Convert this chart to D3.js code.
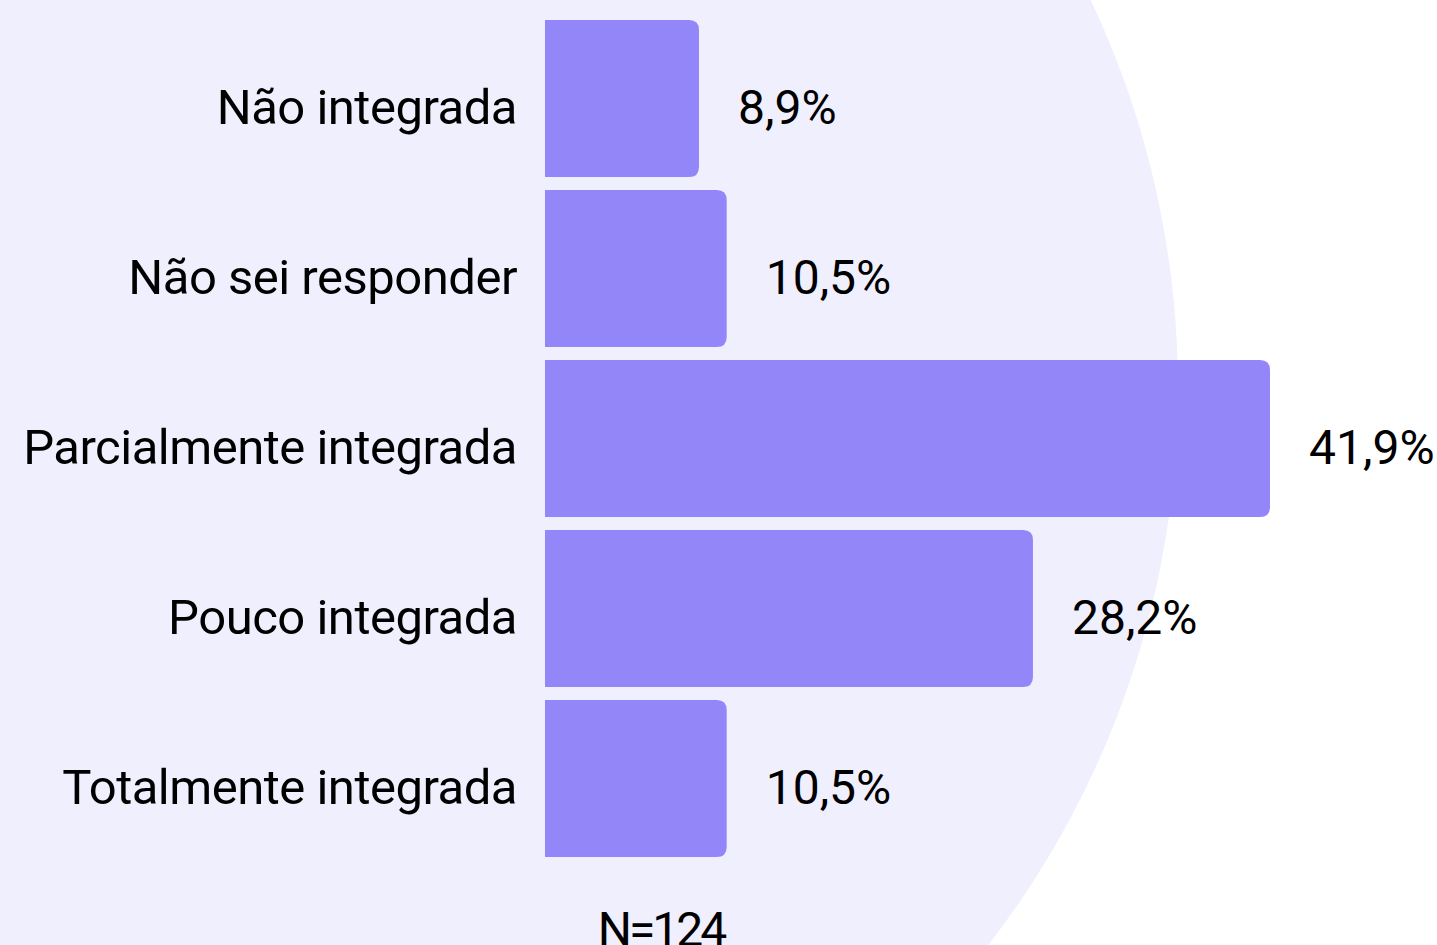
<!DOCTYPE html>
<html>
<head>
<meta charset="utf-8">
<script src="https://cdn.jsdelivr.net/npm/d3@7"></script>
<style>
  body { margin: 0; background: #ffffff; overflow: hidden; }
  text { font-family: "Roboto", "Noto Sans", sans-serif; fill: #000; }
</style>
</head>
<body>
<div id="chart"></div>
<script>
"use strict";

// data
var categories = ["Não integrada", "Não sei responder", "Parcialmente integrada", "Pouco integrada", "Totalmente integrada"];
var values = [8.9, 10.5, 41.9, 28.2, 10.5];
var valueLabels = ["8,9%", "10,5%", "41,9%", "28,2%", "10,5%"];
var sampleNote = "N=124";

var width = 1437, height = 945;

var svg = d3.select("#chart")
  .append("svg")
    .attr("width", width)
    .attr("height", height);

// big lavender disc behind the bars
svg.append("circle")
  .attr("cx", 268)
  .attr("cy", 389)
  .attr("r", 910)
  .style("fill", "#f0effe");

var x = d3.scaleLinear()
  .domain([0, d3.max(values)])
  .range([545, 1270]);

var y = d3.scaleBand()
  .domain(categories)
  .range([20, 857])
  .paddingInner(13 / 170)
  .paddingOuter(0);

var rows = categories.map(function(c, i) {
  return {cat: c, value: values[i], label: valueLabels[i]};
});

// bar with square left side and rounded right side
function barPath(d) {
  var x0 = x(0), x1 = x(d.value), y0 = y(d.cat), h = y.bandwidth(), r = 10;
  return "M" + x0 + "," + y0 +
    "H" + (x1 - r) +
    "Q" + x1 + "," + y0 + " " + x1 + "," + (y0 + r) +
    "V" + (y0 + h - r) +
    "Q" + x1 + "," + (y0 + h) + " " + (x1 - r) + "," + (y0 + h) +
    "H" + x0 + "Z";
}

svg.selectAll(".bar")
  .data(rows)
  .enter()
  .append("path")
    .attr("class", "bar")
    .attr("d", barPath)
    .style("fill", "#9386f9");

// category labels
svg.selectAll(".cat")
  .data(rows)
  .enter()
  .append("text")
    .attr("class", "cat")
    .attr("x", 517)
    .attr("y", function(d) { return y(d.cat) + y.bandwidth() / 2 + 25; })
    .attr("text-anchor", "end")
    .style("font-size", "49px")
    .style("letter-spacing", "-0.5px")
    .text(function(d) { return d.cat; });

// value labels
svg.selectAll(".val")
  .data(rows)
  .enter()
  .append("text")
    .attr("class", "val")
    .attr("x", function(d) { return x(d.value) + 39; })
    .attr("y", function(d) { return y(d.cat) + y.bandwidth() / 2 + 25; })
    .style("font-size", "48px")
    .text(function(d) { return d.label; });

// sample size, cut by the bottom edge like the original
svg.append("text")
  .attr("x", 661)
  .attr("y", 946)
  .attr("text-anchor", "middle")
  .style("font-size", "48px")
  .style("letter-spacing", "-3px")
  .text(sampleNote);
</script>
</body>
</html>
